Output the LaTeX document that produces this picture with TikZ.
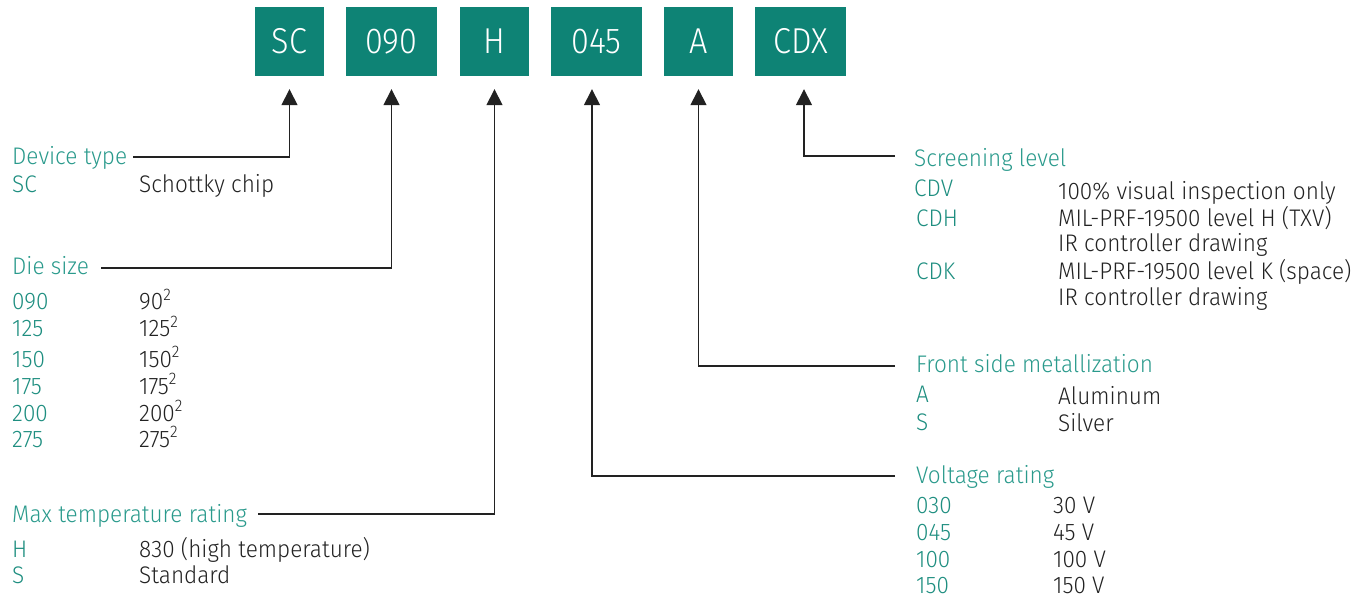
\documentclass[tikz,border=0pt]{standalone}
\usepackage{fontspec}
\setmainfont{Fira Sans Light}[FakeStretch=0.94]
\newfontfamily\boxfont{Fira Sans Light}[FakeStretch=0.9]
\usetikzlibrary{arrows.meta}
\definecolor{boxteal}{HTML}{0E8375}
\definecolor{headteal}{HTML}{2A9A8C}
\definecolor{codeteal}{HTML}{1E8E80}
\definecolor{txt}{HTML}{222222}
\begin{document}
\begin{tikzpicture}[x=1pt,y=-1pt,
  codebox/.style={fill=boxteal, text=white, inner sep=0pt, minimum height=69pt, font=\boxfont\fontsize{36}{36}\selectfont},
  head/.style={anchor=base west, inner sep=0pt, text=headteal, font=\fontsize{24}{24}\selectfont},
  code/.style={anchor=base west, inner sep=0pt, text=codeteal, font=\fontsize{24}{24}\selectfont},
  desc/.style={anchor=base west, inner sep=0pt, text=txt, font=\fontsize{24}{24}\selectfont},
  conn/.style={draw=txt, line width=1.5pt, -{Triangle[width=16pt,length=16pt]}},
]
\useasboundingbox (0,0) rectangle (1370,601);

% code boxes
\node[codebox, minimum width=69pt] (bSC)  at (289.5,41.5) {SC};
\node[codebox, minimum width=91pt] (b090) at (391.5,41.5) {090};
\node[codebox, minimum width=69pt] (bH)   at (494.5,41.5) {H};
\node[codebox, minimum width=91pt] (b045) at (596.5,41.5) {045};
\node[codebox, minimum width=69pt] (bA)   at (698.5,41.5) {A};
\node[codebox, minimum width=91pt] (bCDX) at (800.5,41.5) {CDX};

% left: device type
\node[head] (hDev) at (12,165) {Device type};
\node[code] (cSC) at (12,193) {SC};
\node[desc] (dSC) at (139,193) {Schottky chip};

% left: die size
\node[head] (hDie) at (12,275) {Die size};
\node[code] (c090) at (12,310) {090};
\node[code] (c125) at (12,337) {125};
\node[code] (c150) at (12,367) {150};
\node[code] (c175) at (12,394) {175};
\node[code] (c200) at (12,421) {200};
\node[code] (c275) at (12,447) {275};
\node[desc] (d090) at (139,310) {90\textsuperscript{2}};
\node[desc] (d125) at (139,337) {125\textsuperscript{2}};
\node[desc] (d150) at (139,367) {150\textsuperscript{2}};
\node[desc] (d175) at (139,394) {175\textsuperscript{2}};
\node[desc] (d200) at (139,421) {200\textsuperscript{2}};
\node[desc] (d275) at (139,447) {275\textsuperscript{2}};

% left: max temperature
\node[head] (hTmp) at (12,522) {Max temperature rating};
\node[code] (cH) at (12,557) {H};
\node[code] (cS) at (12,583) {S};
\node[desc] (dH) at (139,557) {830 (high temperature)};
\node[desc] (dS) at (139,583) {Standard};

% right: screening level
\node[head] (hScr) at (914,167) {Screening level};
\node[code] (cCDV) at (914,197) {CDV};
\node[code] (cCDH) at (916,227) {CDH};
\node[code] (cCDK) at (916,280) {CDK};
\node[desc] (dCDV) at (1058,200) {100\% visual inspection only};
\node[desc] (dCDH) at (1058,227) {MIL-PRF-19500 level H (TXV)};
\node[desc] (dCDHb) at (1058,252) {IR controller drawing};
\node[desc] (dCDK) at (1058,280) {MIL-PRF-19500 level K (space)};
\node[desc] (dCDKb) at (1058,306) {IR controller drawing};

% right: front side metallization
\node[head] (hMet) at (916,372) {Front side metallization};
\node[code] (cA) at (916,402) {A};
\node[code] (cSm) at (916,430) {S};
\node[desc] (dA) at (1058,404) {Aluminum};
\node[desc] (dSm) at (1058,431) {Silver};

% right: voltage rating
\node[head] (hVol) at (916,483) {Voltage rating};
\node[code] (c030) at (916,513) {030};
\node[code] (c045) at (916,540) {045};
\node[code] (c100) at (916,567) {100};
\node[code] (c150v) at (916,593) {150};
\node[desc] (d030) at (1053,513) {30 V};
\node[desc] (d045) at (1053,540) {45 V};
\node[desc] (d100) at (1053,567) {100 V};
\node[desc] (d150v) at (1053,593) {150 V};

% connector start points
\coordinate (pDev) at (133,157);
\coordinate (pDie) at (101,268);
\coordinate (pTmp) at (258,514);
\coordinate (pScr) at (895,156);
\coordinate (pMet) at (895,366);
\coordinate (pVol) at (895,476);

\draw[conn] (pDev) -| ([yshift=-13pt]bSC.south);
\draw[conn] (pDie) -| ([yshift=-13pt]b090.south);
\draw[conn] (pTmp) -| ([yshift=-13pt]bH.south);
\draw[conn] (pVol) -| ([xshift=-4.5pt,yshift=-13pt]b045.south);
\draw[conn] (pMet) -| ([yshift=-13pt]bA.south);
\draw[conn] (pScr) -| ([xshift=3.5pt,yshift=-13pt]bCDX.south);
\end{tikzpicture}
\end{document}
